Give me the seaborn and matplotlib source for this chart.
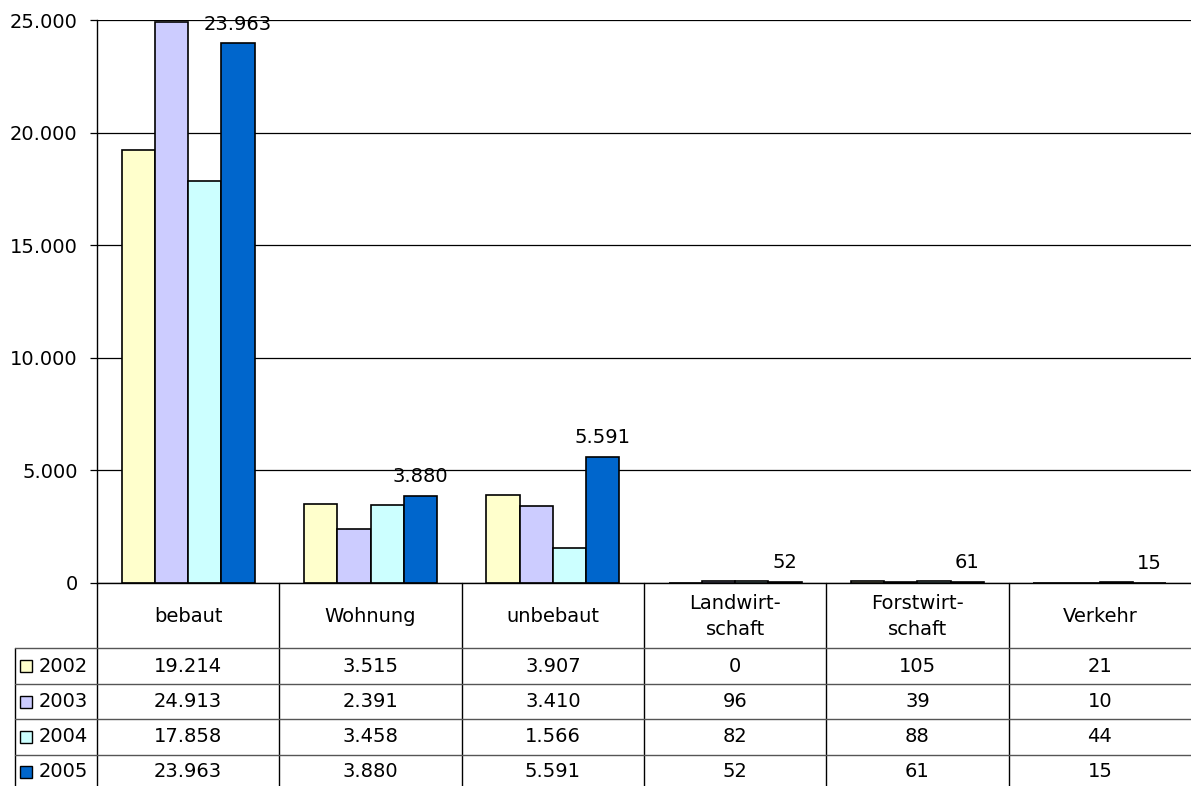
import numpy as np
import pandas as pd
import matplotlib
matplotlib.use("Agg")
import matplotlib.pyplot as plt
from matplotlib.patches import Rectangle
import seaborn as sns

# Kategorien und Jahreswerte
categories = ["bebaut", "Wohnung", "unbebaut", "Landwirt-\nschaft", "Forstwirt-\nschaft", "Verkehr"]
years = ["2002", "2003", "2004", "2005"]
v2002 = [19214, 3515, 3907, 0, 105, 21]
v2003 = [24913, 2391, 3410, 96, 39, 10]
v2004 = [17858, 3458, 1566, 82, 88, 44]
v2005 = [23963, 3880, 5591, 52, 61, 15]
colors = ["#FFFFCC", "#CCCCFF", "#CCFFFF", "#0066CC"]
y_ticks = [0, 5000, 10000, 15000, 20000, 25000]

series = [v2002, v2003, v2004, v2005]


def de(n):
    return f"{n:,}".replace(",", ".")


rows = []
for year, vals in zip(years, series):
    for cat, v in zip(categories, vals):
        rows.append({"Kategorie": cat, "Jahr": year, "Wert": v})
df = pd.DataFrame(rows)

sns.set_style("white")
plt.rcParams["font.family"] = ["DejaVu Sans"]
plt.rcParams["text.color"] = "black"
plt.rcParams["ytick.color"] = "black"
FS = 14

W_PX, H_PX = 1191, 786
fig = plt.figure(figsize=(W_PX / 100, H_PX / 100), dpi=100)
fig.patch.set_facecolor("white")

# plot area in pixel geometry
left, right, top, zero = 97, 1191, 20, 583
ax = fig.add_axes([left / W_PX, (H_PX - zero) / H_PX, (right - left) / W_PX, (zero - top) / H_PX])

sns.barplot(data=df, x="Kategorie", y="Wert", hue="Jahr", order=categories,
            hue_order=years, palette=colors, saturation=1, width=0.73,
            edgecolor="black", linewidth=1.2, errorbar=None, legend=False, ax=ax)

ax.set_xlim(-0.5, len(categories) - 0.5)
ax.set_ylim(0, 25000)
ax.set_yticks(y_ticks)
ax.set_yticklabels([de(t) for t in y_ticks])
ax.set_xticks([])
ax.set_xlabel("")
ax.set_ylabel("")
ax.yaxis.grid(True, color="black", linewidth=0.9)
ax.set_axisbelow(True)
for s in ["top", "right"]:
    ax.spines[s].set_visible(False)
ax.spines["left"].set_color("black")
ax.spines["left"].set_linewidth(1.0)
ax.spines["bottom"].set_color("black")
ax.spines["bottom"].set_linewidth(1.0)
ax.tick_params(axis="y", direction="out", length=5, width=0.9, color="black",
               pad=9, labelsize=FS, labelcolor="black", left=True)

# Werte der letzten Reihe über den Säulen
ax.bar_label(ax.containers[3], labels=[de(v) for v in v2005], padding=7,
             fontsize=FS, color="black")

# Datentabelle unter dem Diagramm
col_w = (right - left) / len(categories)
tab_left = 15
x0 = -0.5 - (left - tab_left) / col_w
tax = fig.add_axes([tab_left / W_PX, 0, (W_PX - tab_left) / W_PX, (H_PX - zero) / H_PX])
tax.set_xlim(x0, len(categories) - 0.5)
tax.set_ylim(H_PX, zero)
tax.axis("off")

header_bottom = 648
row_edges = [648, 684, 719, 755, 788]

for b in np.arange(-0.5, len(categories) - 1, 1.0):
    tax.plot([b, b], [zero, H_PX], color="black", lw=1.0, clip_on=False)
tax.plot([x0, x0], [header_bottom, H_PX], color="black", lw=1.0, clip_on=False)
for y in row_edges[:-1]:
    tax.plot([x0, len(categories) - 0.5], [y, y], color="#555555", lw=1.0, clip_on=False)

for i, cat in enumerate(categories):
    tax.text(i, (zero + header_bottom) / 2 + 1, cat, ha="center", va="center",
             fontsize=FS, linespacing=1.5, color="black")

for r, (year, vals, c) in enumerate(zip(years, series, colors)):
    yc = (row_edges[r] + row_edges[r + 1]) / 2
    tax.add_patch(Rectangle((x0 + 5 / col_w, yc - 6), 12 / col_w, 12,
                            facecolor=c, edgecolor="black", lw=1.0, clip_on=False))
    tax.text(x0 + 24 / col_w, yc, year, ha="left", va="center", fontsize=FS, color="black")
    for i, v in enumerate(vals):
        tax.text(i, yc, de(v), ha="center", va="center", fontsize=FS, color="black")

fig.savefig("out.png", dpi=100, facecolor="white")
